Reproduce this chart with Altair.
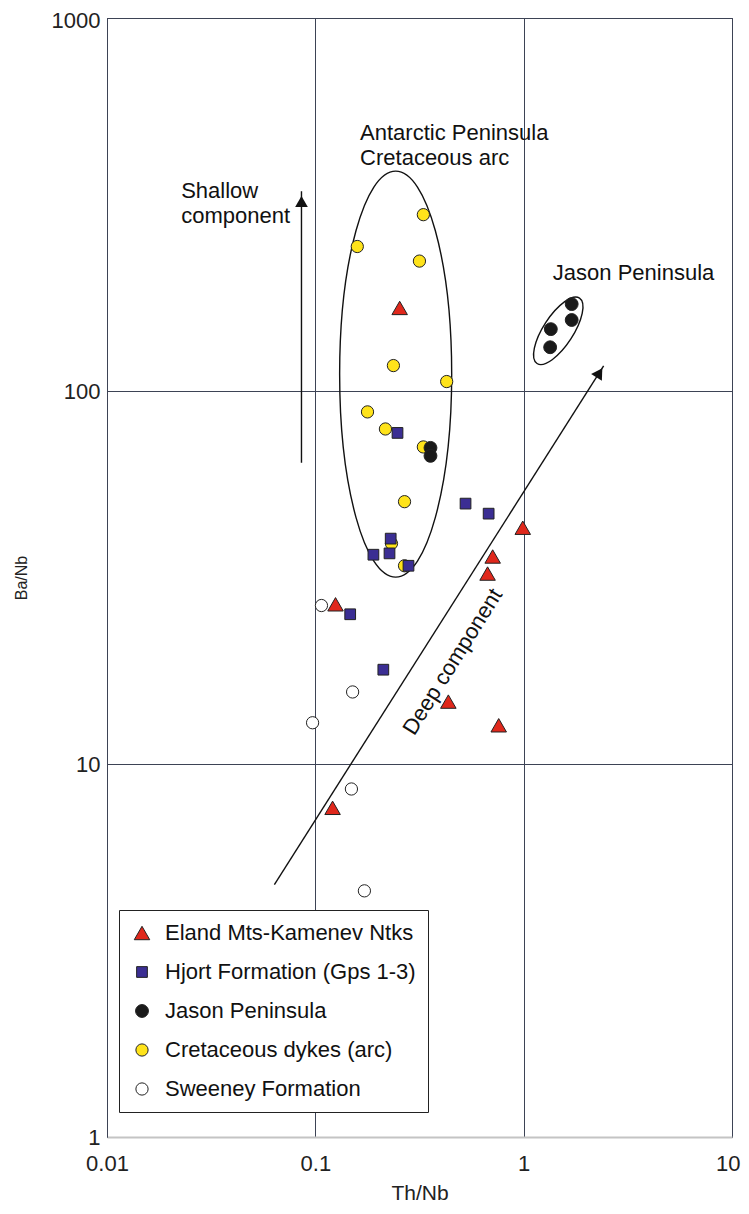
import altair as alt
import pandas as pd

# ---- data ----
groups = ["Eland Mts-Kamenev Ntks", "Hjort Formation (Gps 1-3)", "Jason Peninsula",
          "Cretaceous dykes (arc)", "Sweeney Formation"]

eland_x = [0.254, 0.125, 0.435, 0.759, 0.121, 0.671, 0.71, 0.99]
eland_y = [167, 26.8, 14.7, 12.7, 7.63, 32.4, 36, 43]
hjort_x = [0.248, 0.526, 0.679, 0.23, 0.19, 0.227, 0.28, 0.147, 0.212]
hjort_y = [77.2, 49.9, 46.9, 40.2, 36.4, 36.7, 34, 25.2, 17.9]
jason_x = [1.70, 1.70, 1.35, 1.34, 0.357, 0.357]
jason_y = [171, 155, 146.5, 131, 70.4, 67]
dyke_x = [0.330, 0.159, 0.316, 0.237, 0.427, 0.178, 0.217, 0.330, 0.268, 0.232, 0.268]
dyke_y = [297, 244, 223, 117, 106, 87.9, 79.1, 70.8, 50.5, 39, 34]
sweeney_x = [0.107, 0.151, 0.097, 0.149, 0.172]
sweeney_y = [26.6, 15.6, 12.9, 8.57, 4.57]

x_ticks = [0.01, 0.1, 1, 10]
y_ticks = [1, 10, 100, 1000]

# annotation anchors (data coordinates)
ann_text = ["Antarctic Peninsula", "Cretaceous arc", "Shallow", "component", "Jason Peninsula"]
ann_x = [0.164, 0.164, 0.0227, 0.0227, 1.38]
ann_y = [493, 422, 343, 294, 207]

deep_label = "Deep component"
deep_x, deep_y = 0.456, 18.8

shallow_arrow_x = [0.0858, 0.0858]
shallow_arrow_y = [64.2, 343]
deep_arrow_x = [0.0636, 2.42]
deep_arrow_y = [4.75, 116.7]

# ---- tables ----
rows = []
for g, xs_, ys_ in [(groups[4], sweeney_x, sweeney_y), (groups[3], dyke_x, dyke_y),
                    (groups[0], eland_x, eland_y), (groups[1], hjort_x, hjort_y),
                    (groups[2], jason_x, jason_y)]:
    for a, b in zip(xs_, ys_):
        rows.append({"group": g, "x": a, "y": b})
pts = pd.DataFrame(rows)

FONT = "Liberation Sans"
colors = ["#e0281c", "#3b2e93", "#1a1a1a", "#ffe31a", "#ffffff"]
outline = ["#222222"] * 5
shapes = ["triangle-up", "square", "circle", "circle", "circle"]
sizes = [240, 115, 165, 150, 150]

xs = alt.Scale(type="log", domain=[0.01, 10], nice=False)
ys = alt.Scale(type="log", domain=[1, 1000], nice=False)

legend = alt.Legend(title=None, orient="none", legendX=12, legendY=892,
                    strokeColor="#222", fillColor="white", padding=12,
                    labelFont=FONT, labelFontSize=22, labelColor="#111",
                    symbolStrokeWidth=1,
                    rowPadding=17, labelOffset=12, labelLimit=400)

X = alt.X("x:Q", scale=xs, title="Th/Nb",
          axis=alt.Axis(values=x_ticks, format="~g", grid=True, gridColor="#3d4355",
                        gridWidth=1, gridOpacity=1, ticks=False, labelPadding=16,
                        labelFontSize=22, labelFont=FONT, labelColor="#222",
                        labelAlign={"condition": {"test": "datum.value >= 10", "value": "right"},
                                    "value": "center"},
                        labelOffset={"condition": {"test": "datum.value >= 10", "value": 8},
                                     "value": 0},
                        domainColor="#c4c4c4", domainWidth=2, titleFont=FONT,
                        titleFontSize=21, titleFontWeight="normal", titlePadding=8,
                        titleColor="#222", labelFlush=False))
Y = alt.Y("y:Q", scale=ys, title="Ba/Nb",
          axis=alt.Axis(values=y_ticks, format="~g", grid=True, gridColor="#3d4355",
                        gridWidth=1, gridOpacity=1, ticks=False, labelPadding=7,
                        labelFontSize=22, labelFont=FONT, labelColor="#222",
                        labelOffset={"condition": {"test": "datum.value >= 1000", "value": 2},
                                     "value": 0},
                        domainColor="#3d4355", titleFont=FONT, titleFontSize=16,
                        titleFontWeight="normal", titlePadding=22, titleColor="#222",
                        labelFlush=False))

points = alt.Chart(pts).mark_point(filled=True, strokeWidth=1, opacity=1).encode(
    x=X, y=Y,
    fill=alt.Fill("group:N", scale=alt.Scale(domain=groups, range=colors), legend=legend),
    stroke=alt.Stroke("group:N", scale=alt.Scale(domain=groups, range=outline), legend=legend),
    shape=alt.Shape("group:N", scale=alt.Scale(domain=groups, range=shapes), legend=legend),
    size=alt.Size("group:N", scale=alt.Scale(type="ordinal", domain=groups, range=sizes),
                  legend=legend),
)

# ellipses as custom-path symbols centred on data positions
ell_big = alt.Chart(pd.DataFrame({"x": [0.243], "y": [111]})).mark_point(
    shape="M 0 -1 A 0.276 1 0 1 1 0 1 A 0.276 1 0 1 1 0 -1 Z",
    size=406 * 406, filled=False, stroke="#111", strokeWidth=1.4, opacity=1
).encode(x=alt.X("x:Q", scale=xs), y=alt.Y("y:Q", scale=ys))

ell_jason = alt.Chart(pd.DataFrame({"x": [1.466], "y": [145]})).mark_point(
    shape="M 0 -1 A 0.385 1 0 1 1 0 1 A 0.385 1 0 1 1 0 -1 Z",
    size=78 * 78, angle=33, filled=False, stroke="#111", strokeWidth=1.4, opacity=1
).encode(x=alt.X("x:Q", scale=xs), y=alt.Y("y:Q", scale=ys))

# arrows
shallow_df = pd.DataFrame({"x": shallow_arrow_x, "y": shallow_arrow_y, "o": [0, 1]})
deep_df = pd.DataFrame({"x": deep_arrow_x, "y": deep_arrow_y, "o": [0, 1]})

shallow_line = alt.Chart(shallow_df).mark_line(color="#111", strokeWidth=1.4).encode(
    x=alt.X("x:Q", scale=xs), y=alt.Y("y:Q", scale=ys), order="o:Q")
deep_line = alt.Chart(deep_df).mark_line(color="#111", strokeWidth=1.4).encode(
    x=alt.X("x:Q", scale=xs), y=alt.Y("y:Q", scale=ys), order="o:Q")

shallow_head = alt.Chart(pd.DataFrame({"x": [0.0858], "y": [322]})).mark_point(
    shape="triangle-up", size=160, filled=True, color="#111", opacity=1
).encode(x=alt.X("x:Q", scale=xs), y=alt.Y("y:Q", scale=ys))
deep_head = alt.Chart(pd.DataFrame({"x": [2.31], "y": [111.9]})).mark_point(
    shape="triangle-up", size=160, angle=32, filled=True, color="#111", opacity=1
).encode(x=alt.X("x:Q", scale=xs), y=alt.Y("y:Q", scale=ys))

ann = alt.Chart(pd.DataFrame({"t": ann_text, "x": ann_x, "y": ann_y})).mark_text(
    align="left", baseline="middle", font=FONT, fontSize=22, color="#111"
).encode(x=alt.X("x:Q", scale=xs), y=alt.Y("y:Q", scale=ys), text="t:N")

deep_txt = alt.Chart(pd.DataFrame({"t": [deep_label], "x": [deep_x], "y": [deep_y]})).mark_text(
    align="center", baseline="middle", font=FONT, fontSize=22, color="#111", angle=302
).encode(x=alt.X("x:Q", scale=xs), y=alt.Y("y:Q", scale=ys), text="t:N")

chart = alt.layer(
    ell_big, ell_jason, shallow_line, deep_line, shallow_head, deep_head,
    ann, deep_txt, points
).properties(
    width=625, height=1119,
    autosize=alt.AutoSizeParams(type="none"),
    padding={"left": 99, "top": 10, "right": 9, "bottom": 69},
    background="white",
).configure_view(stroke="#3d4355", strokeWidth=1)

chart.save("out.html", embed_options={"renderer": "svg", "actions": False})
